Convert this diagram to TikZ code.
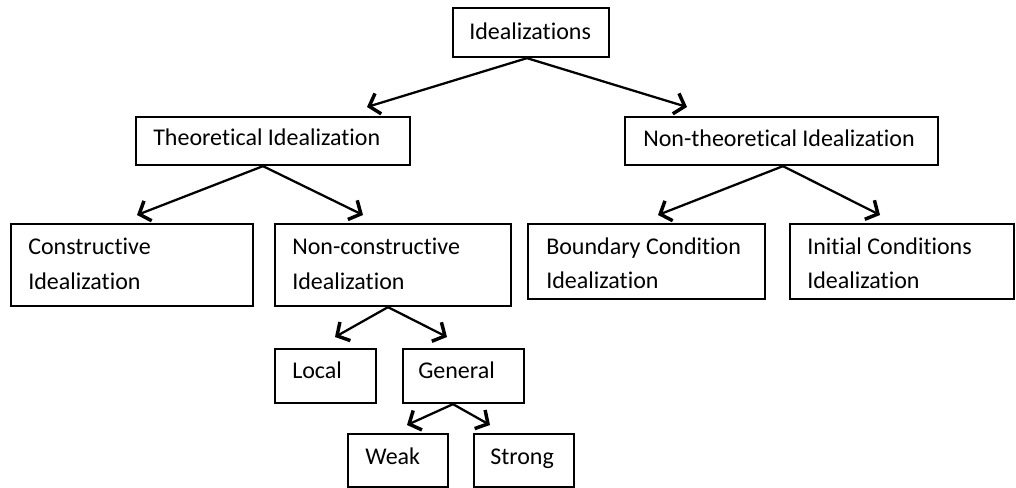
\documentclass[tikz,border=0pt]{standalone}
\usepackage{fontspec}
\setmainfont{Carlito}[Ligatures={NoCommon,NoContextual}]
\usetikzlibrary{arrows.meta,calc}
\begin{document}
\begin{tikzpicture}[x=0.75pt,y=-0.75pt,
  box/.style={draw=black,line width=1.6pt,rectangle,inner sep=0pt,anchor=north west},
  lbl/.style={anchor=base west,inner sep=0pt,font=\fontsize{18pt}{26.25pt}\selectfont,text=black},
  arr/.style={line width=1.7pt,-{Straight Barb[length=7pt,width=16pt,line width=2.6pt]}}]
\useasboundingbox (0,0) rectangle (1016,487);
% boxes
\node[box,minimum width=156*0.75pt,minimum height=49*0.75pt] (ideal) at (452,7) {};
\node[box,minimum width=274*0.75pt,minimum height=48*0.75pt] (theo) at (135,116) {};
\node[box,minimum width=313*0.75pt,minimum height=48*0.75pt] (ntheo) at (624,116) {};
\node[box,minimum width=242*0.75pt,minimum height=82*0.75pt] (cons) at (10,223) {};
\node[box,minimum width=236*0.75pt,minimum height=82*0.75pt] (ncons) at (274,223) {};
\node[box,minimum width=237*0.75pt,minimum height=75*0.75pt] (bound) at (527,223) {};
\node[box,minimum width=224*0.75pt,minimum height=75*0.75pt] (init) at (789,223) {};
\node[box,minimum width=101*0.75pt,minimum height=54*0.75pt] (local) at (274,348) {};
\node[box,minimum width=121*0.75pt,minimum height=54*0.75pt] (gen) at (402,348) {};
\node[box,minimum width=100*0.75pt,minimum height=53*0.75pt] (weak) at (347,433) {};
\node[box,minimum width=100*0.75pt,minimum height=53*0.75pt] (strong) at (473,433) {};
% labels
\node[lbl] (ideal-t) at ($(ideal.north west)+(17,32)$) {Idealizations};
\node[lbl] (theo-t) at ($(theo.north west)+(18,29)$) {Theoretical Idealization};
\node[lbl] (ntheo-t) at ($(ntheo.north west)+(19,30)$) {Non-theoretical Idealization};
\node[lbl] (cons-t1) at ($(cons.north west)+(18,31)$) {Constructive};
\node[lbl] (cons-t2) at ($(cons.north west)+(18,66)$) {Idealization};
\node[lbl] (ncons-t1) at ($(ncons.north west)+(18,31)$) {Non-constructive};
\node[lbl] (ncons-t2) at ($(ncons.north west)+(18,66)$) {Idealization};
\node[lbl] (bound-t1) at ($(bound.north west)+(19,31)$) {Boundary Condition};
\node[lbl] (bound-t2) at ($(bound.north west)+(19,65)$) {Idealization};
\node[lbl] (init-t1) at ($(init.north west)+(18,31)$) {Initial Conditions};
\node[lbl] (init-t2) at ($(init.north west)+(18,65)$) {Idealization};
\node[lbl] (local-t) at ($(local.north west)+(18,30)$) {Local};
\node[lbl] (gen-t) at ($(gen.north west)+(16,30)$) {General};
\node[lbl] (weak-t) at ($(weak.north west)+(18,31)$) {Weak};
\node[lbl] (strong-t) at ($(strong.north west)+(17,31)$) {Strong};
% connectors
\draw[arr] ($(ideal.south west)+(75,0)$) -- ($(theo.north west)+(232,-9)$);
\draw[arr] ($(ideal.south west)+(75,0)$) -- ($(ntheo.north west)+(63,-9)$);
\draw[arr] ($(theo.south west)+(128,0)$) -- ($(cons.north west)+(127,-8)$);
\draw[arr] ($(theo.south west)+(128,0)$) -- ($(ncons.north west)+(89,-8)$);
\draw[arr] ($(ntheo.south west)+(159,0)$) -- ($(bound.north west)+(131,-8)$);
\draw[arr] ($(ntheo.south west)+(159,0)$) -- ($(init.north west)+(91,-8)$);
\draw[arr] ($(ncons.south west)+(114,0)$) -- ($(local.north west)+(61,-11)$);
\draw[arr] ($(ncons.south west)+(114,0)$) -- ($(gen.north west)+(45,-11)$);
\draw[arr] ($(gen.south west)+(51,0)$) -- ($(weak.north west)+(60,-8)$);
\draw[arr] ($(gen.south west)+(51,0)$) -- ($(strong.north west)+(17,-8)$);
\end{tikzpicture}
\end{document}
